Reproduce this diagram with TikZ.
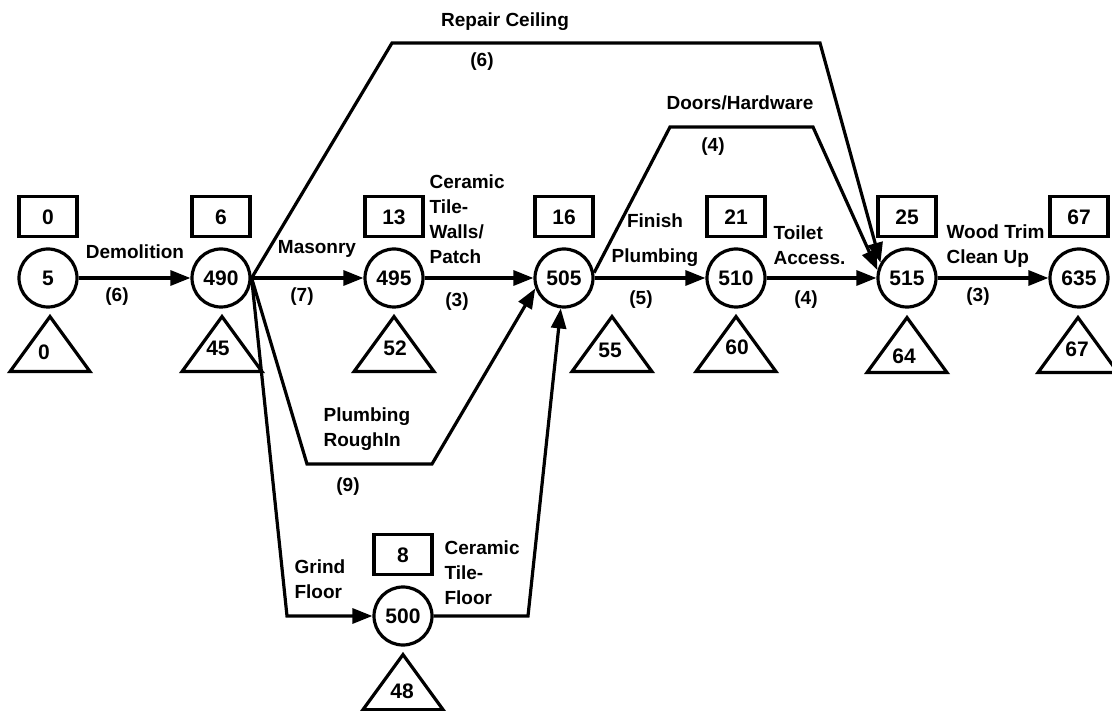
\documentclass[tikz,border=0pt]{standalone}
\usepackage{fontspec}
\setmainfont{Liberation Sans}
\usetikzlibrary{arrows.meta,positioning,calc}

\begin{document}
\begin{tikzpicture}[x=1pt,y=-1pt,line width=3.2pt,
    font=\fontsize{19}{25}\selectfont\bfseries,
    event/.style={circle,draw,minimum size=58pt,inner sep=0pt,font=\fontsize{21}{25}\selectfont\bfseries},
    early/.style={draw,minimum width=58pt,minimum height=40pt,inner sep=0pt,font=\fontsize{21}{25}\selectfont\bfseries},
    late/.style={inner sep=0pt,font=\fontsize{21}{25}\selectfont\bfseries},
    act/.style={-{Triangle[length=20pt,width=15pt]}},
    lbl/.style={inner sep=0pt,align=left},
    dur/.style={inner sep=0pt}]
  \useasboundingbox (0,0) rectangle (1112,711);

  % events
  \node[event] (e5)   at (48,278)  {5};
  \node[event] (e490) at (221,278) {490};
  \node[event] (e495) at (394,278) {495};
  \node[event] (e505) at (564,278) {505};
  \node[event] (e510) at (736,278) {510};
  \node[event] (e515) at (907,278) {515};
  \node[event] (e635) at (1079,278) {635};
  \node[event] (e500) at (403,616) {500};

  % earliest times
  \node[early,above=9pt of e5]   (s5)   {0};
  \node[early,above=9pt of e490] (s490) {6};
  \node[early,above=9pt of e495] (s495) {13};
  \node[early,above=9pt of e505] (s505) {16};
  \node[early,above=9pt of e510] (s510) {21};
  \node[early,above=9pt of e515] (s515) {25};
  \node[early,above=9pt of e635] (s635) {67};
  \node[early,above=9pt of e500] (s500) {8};

  % latest times
  \draw ($(e5.south)+(2,8)$) -- ++(40,55) -- ++(-80,0) -- cycle;
  \node[late] (f5) at (44,352) {0};
  \draw ($(e490.south)+(1,8)$) -- ++(40,55) -- ++(-80,0) -- cycle;
  \node[late] (f490) at (218,348) {45};
  \draw ($(e495.south)+(0,8)$) -- ++(40,55) -- ++(-80,0) -- cycle;
  \node[late] (f495) at (395,348) {52};
  \draw ($(e505.south)+(48,8)$) -- ++(40,55) -- ++(-80,0) -- cycle;
  \node[late] (f505) at (610,350) {55};
  \draw ($(e510.south)+(0,8)$) -- ++(40,55) -- ++(-80,0) -- cycle;
  \node[late] (f510) at (737,347) {60};
  \draw ($(e515.south)+(0,9)$) -- ++(40,55) -- ++(-80,0) -- cycle;
  \node[late] (f515) at (904,356) {64};
  \draw ($(e635.south)+(-1,9)$) -- ++(40,55) -- ++(-80,0) -- cycle;
  \node[late] (f635) at (1077,349) {67};
  \draw ($(e500.south)+(0,8)$) -- ++(40,55) -- ++(-80,0) -- cycle;
  \node[late] (f500) at (402,691) {48};

  % activities
  \draw[act] (e5) -- (e490);
  \draw[act] (e490) -- (e495);
  \draw[act] (e495) -- (e505);
  \draw[act] (e505) -- (e510);
  \draw[act] (e510) -- (e515);
  \draw[act] (e515) -- (e635);
  \draw[act] (e490.east) -- (392,43) -- (820,43) -- (e515.150);
  \draw[act] (e505.10) -- (670,127) -- (813,127) -- (e515.165);
  \draw[act] (e490.east) -- (307,464) -- (432,464) -- (e505.200);
  \draw[act] (e490.east) -- (287,616) -- (e500);
  \draw[act] (e500) -- (528,616) -- (e505);

  % activity names and durations
  \node[lbl] (repair) at (505,22) {Repair Ceiling};
  \node[dur] (repairD) at (482,62) {(6)};
  \node[lbl] (doors) at (740,103) {Doors/Hardware};
  \node[dur] (doorsD) at (713,147) {(4)};
  \node[lbl] (demo) at (135,252) {Demolition};
  \node[dur] (demoD) at (117,297) {(6)};
  \node[lbl] (mason) at (317,249) {Masonry};
  \node[dur] (masonD) at (302,297) {(7)};
  \node[lbl,anchor=west] (walls) at (428,219) {Ceramic\\Tile-\\Walls/\\Patch};
  \node[dur] (wallsD) at (457,302) {(3)};
  \node[lbl,align=center] (finish) at (655,240) {Finish\\[10pt]Plumbing};
  \node[dur] (finishD) at (641,300) {(5)};
  \node[lbl,anchor=west] (toilet) at (772,245.5) {Toilet\\Access.};
  \node[dur] (toiletD) at (806,300) {(4)};
  \node[lbl,anchor=west] (trim) at (945,246.5) {Wood Trim\\Clean Up};
  \node[dur] (trimD) at (978,297) {(3)};
  \node[lbl,anchor=west] (rough) at (322,429.5) {Plumbing\\RoughIn};
  \node[dur] (roughD) at (348,487) {(9)};
  \node[lbl,anchor=west] (grind) at (293,579.5) {Grind\\Floor};
  \node[lbl,anchor=west] (tfloor) at (443,573) {Ceramic\\Tile-\\Floor};
\end{tikzpicture}
\end{document}
